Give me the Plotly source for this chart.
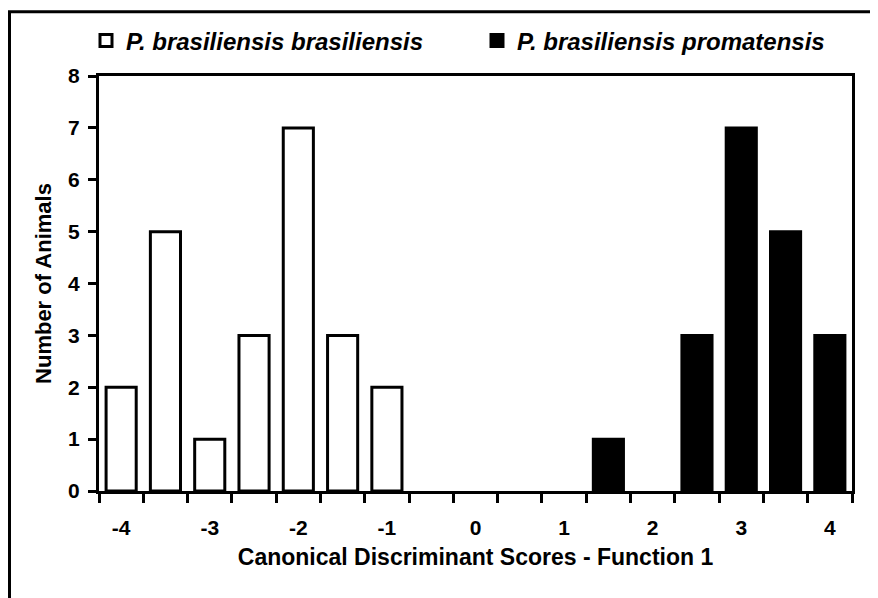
import plotly.graph_objects as go

categories = ["-4", "-3.5", "-3", "-2.5", "-2", "-1.5", "-1", "-0.5", "0",
              "0.5", "1", "1.5", "2", "2.5", "3", "3.5", "4"]
tick_labels = ["-4", "", "-3", "", "-2", "", "-1", "", "0",
               "", "1", "", "2", "", "3", "", "4"]
brasiliensis = [2, 5, 1, 3, 7, 3, 2, 0, 0, 0, 0, 0, 0, 0, 0, 0, 0]
promatensis = [0, 0, 0, 0, 0, 0, 0, 0, 0, 0, 0, 1, 0, 3, 7, 5, 3]

FONT = "Liberation Sans, Arial, sans-serif"

def nz(vals):
    return [v if v else None for v in vals]

fig = go.Figure()
fig.add_trace(go.Bar(x=categories, y=nz(brasiliensis), name="P. brasiliensis brasiliensis",
                     marker=dict(color="white", line=dict(color="black", width=3))))
fig.add_trace(go.Bar(x=categories, y=nz(promatensis), name="P. brasiliensis promatensis",
                     marker=dict(color="black", line=dict(color="black", width=3))))

OFF = 8  # page body margin
W, H = 878 - OFF, 598 - OFF
L, T = 99 - OFF, 75 - OFF
R = 26
pw = W - L - R
ph = 416
B = H - T - ph

def px_x(page_x):
    return (page_x - OFF - L) / pw

def px_y(page_y):
    return 1 - (page_y - OFF - T) / ph

fig.update_layout(
    width=W, height=H,
    margin=dict(l=L, r=R, t=T, b=B),
    paper_bgcolor="white", plot_bgcolor="white",
    barmode="overlay", bargap=0.32,
    font=dict(family=FONT, color="black"),
    showlegend=True,
    legend=dict(orientation="h", x=px_x(86), xanchor="left",
                y=px_y(41), yanchor="middle",
                font=dict(size=24, family=FONT, weight="bold", style="italic"),
                entrywidth=346, entrywidthmode="pixels",
                bgcolor="rgba(0,0,0,0)"),
    xaxis=dict(type="category", categoryorder="array", categoryarray=categories,
               tickmode="array", tickvals=categories, ticktext=tick_labels,
               tickson="boundaries", ticks="outside", ticklen=9, tickwidth=3,
               tickcolor="black", showline=True, linewidth=3, linecolor="black",
               mirror=True, showgrid=False, zeroline=False, ticklabelstandoff=16,
               tickfont=dict(size=21, family=FONT, weight="bold"),
               title=dict(text="Canonical Discriminant Scores - Function 1", standoff=11,
                          font=dict(size=23, family=FONT, weight="bold"))),
    yaxis=dict(range=[0, 8], dtick=1, ticks="outside", ticklen=8, tickwidth=3,
               tickcolor="black", showline=True, linewidth=3, linecolor="black",
               mirror=True, showgrid=False, zeroline=False, ticklabelstandoff=4,
               tickfont=dict(size=21, family=FONT, weight="bold"),
               title=dict(text="Number of Animals", standoff=11,
                          font=dict(size=22, family=FONT, weight="bold"))),
    shapes=[dict(type="rect", xref="paper", yref="paper",
                 x0=px_x(9.5), x1=px_x(900),
                 y0=px_y(640), y1=px_y(10.5),
                 line=dict(color="black", width=3), fillcolor="rgba(0,0,0,0)",
                 layer="below")],
)

fig.write_html("out.html")
